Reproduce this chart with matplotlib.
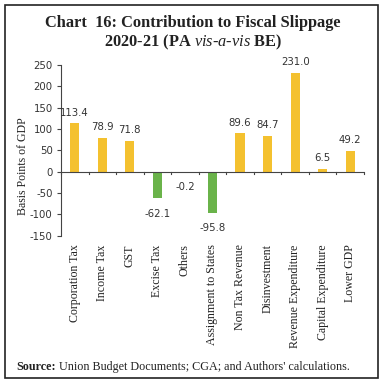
import numpy as np
import matplotlib.pyplot as plt
from matplotlib.patches import Rectangle

#data
categories = ['Corporation Tax', 'Income Tax', 'GST', 'Excise Tax', 'Others',
              'Assignment to States', 'Non Tax Revenue', 'Disinvestment',
              'Revenue Expenditure', 'Capital Expenditure', 'Lower GDP']
values = [113.4, 78.9, 71.8, -62.1, -0.2, -95.8, 89.6, 84.7, 231.0, 6.5, 49.2]
yticks = [-150, -100, -50, 0, 50, 100, 150, 200, 250]

yellow = '#F4C12F'
green = '#6AB34A'
serif = 'Liberation Serif'
sans = 'DejaVu Sans'

plt.rcParams['mathtext.fontset'] = 'custom'
plt.rcParams['mathtext.rm'] = serif
plt.rcParams['mathtext.it'] = serif + ':italic'
plt.rcParams['mathtext.bf'] = serif + ':bold'

fig = plt.figure(figsize=(3.86, 3.86), dpi=100)
ax = fig.add_axes([0.158, 0.389, 0.785, 0.443])

x = np.arange(len(categories))
colors = [yellow if v >= 0 else green for v in values]
ax.bar(x, values, width=0.33, color=colors)

for xi, v in zip(x, values):
    if v >= 0:
        ax.text(xi, v + 13, f'{v:.1f}', ha='center', va='bottom', fontsize=7.3,
                family=sans, color='#333333')
    else:
        ax.text(xi, v - 24, f'{v:.1f}', ha='center', va='top', fontsize=7.3,
                family=sans, color='#333333')

ax.set_xlim(-0.5, len(categories) - 0.5)
ax.set_ylim(-150, 250)
ax.set_yticks(yticks)
ax.set_yticklabels([str(t) for t in yticks], family=sans, fontsize=7.3, color='#333333')
ax.set_ylabel('Basis Points of GDP', family=serif, fontsize=8.5, color='#222222')
ax.yaxis.set_label_coords(-0.105, 0.41)

# x axis drawn at zero with boundary ticks
for s in ['top', 'right', 'bottom']:
    ax.spines[s].set_visible(False)
ax.spines['left'].set_color('#444444')
ax.axhline(0, color='#444444', lw=0.8)
bounds = np.arange(len(categories) + 1) - 0.5
for b in bounds:
    ax.plot([b, b], [0, -5], color='#444444', lw=0.8, clip_on=False)
ax.set_xticks(x)
ax.set_xticklabels(categories, rotation=90, family=serif, fontsize=8.6, color='#222222')
ax.tick_params(axis='x', length=0, pad=6)
ax.tick_params(axis='y', length=3, color='#444444', pad=3)

fig.text(0.5, 0.94, 'Chart  16: Contribution to Fiscal Slippage', ha='center', va='center',
         family=serif, fontsize=11.8, fontweight='bold', color='#222222')
fig.text(0.5, 0.89, r'2020-21 (PA $\it{vis}$-$\it{a}$-$\it{vis}$ BE)', ha='center', va='center',
         family=serif, fontsize=11.8, fontweight='bold', color='#222222')

# source note: bold prefix followed by regular text
src = fig.text(0.042, 0.049, 'Source:', ha='left', va='center', family=serif,
               fontsize=8.7, fontweight='bold', color='#222222')
fig.canvas.draw()
bb = src.get_window_extent().transformed(fig.transFigure.inverted())
fig.text(bb.x1 + 0.008, 0.049, "Union Budget Documents; CGA; and Authors' calculations.",
         ha='left', va='center', family=serif, fontsize=8.7, color='#222222')

fig.add_artist(Rectangle((0.014, 0.02), 0.966, 0.966, transform=fig.transFigure,
                         fill=False, edgecolor='#222222', lw=1.2))

fig.savefig('out.png', dpi=100)
